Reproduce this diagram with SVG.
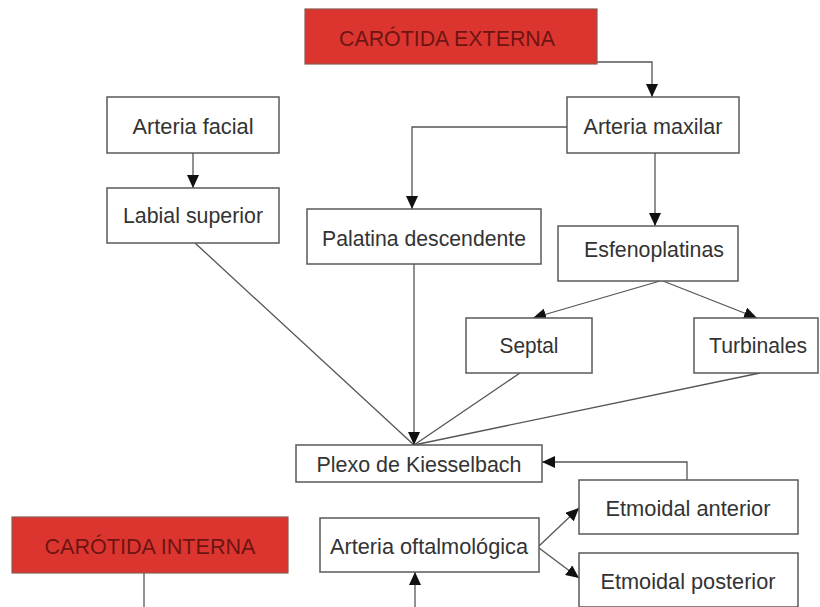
<svg xmlns="http://www.w3.org/2000/svg" width="820" height="607" viewBox="0 0 820 607">
<style>
.box{fill:#fff;stroke:#5a5a5a;stroke-width:1.5}
.red{fill:#dc3530;stroke:#8a5a50;stroke-width:1.2}
.t{font-family:"Liberation Sans",Arial,sans-serif;font-size:21.5px;fill:#333;text-anchor:middle}
.tr{font-family:"Liberation Sans",Arial,sans-serif;font-size:21.5px;fill:#6e1512;text-anchor:middle}
.c{fill:none;stroke:#555;stroke-width:1.3}
</style>
<defs>
<marker id="ah" markerUnits="userSpaceOnUse" markerWidth="14" markerHeight="12" refX="13" refY="6" orient="auto">
<path d="M0,0 L13,6 L0,12 z" fill="#111"/>
</marker>
</defs>
<rect width="820" height="607" fill="#fff"/>
<g id="connectors">
<polyline class="c" points="597,62 652,62 652,97" marker-end="url(#ah)"/>
<polyline class="c" points="567,127 412,127 412,209" marker-end="url(#ah)"/>
<line class="c" x1="193" y1="153" x2="193" y2="188" marker-end="url(#ah)"/>
<line class="c" x1="655" y1="153" x2="655" y2="226" marker-end="url(#ah)"/>
<line class="c" x1="660" y1="281" x2="533" y2="318" marker-end="url(#ah)"/>
<line class="c" x1="663" y1="281" x2="757" y2="318" marker-end="url(#ah)"/>
<line class="c" x1="195" y1="243" x2="414" y2="445"/>
<line class="c" x1="414" y1="264" x2="414" y2="445" marker-end="url(#ah)"/>
<line class="c" x1="520" y1="373" x2="414" y2="445"/>
<line class="c" x1="760" y1="373" x2="414" y2="445"/>
<polyline class="c" points="687,480 687,462 542,462" marker-end="url(#ah)"/>
<line class="c" x1="539" y1="546" x2="579" y2="508" marker-end="url(#ah)"/>
<line class="c" x1="539" y1="548" x2="579" y2="578" marker-end="url(#ah)"/>
<line class="c" x1="144" y1="573" x2="144" y2="607"/>
<line class="c" x1="415" y1="607" x2="415" y2="572" marker-end="url(#ah)"/>
</g>
<g id="carotida-externa"><rect class="red" x="305" y="9" width="292" height="55"/><text class="tr" x="447" y="46" textLength="216" lengthAdjust="spacingAndGlyphs">CARÓTIDA EXTERNA</text></g>
<g id="arteria-facial"><rect class="box" x="107" y="97" width="172" height="56"/><text class="t" x="193" y="134" textLength="121" lengthAdjust="spacingAndGlyphs">Arteria facial</text></g>
<g id="arteria-maxilar"><rect class="box" x="567" y="97" width="172" height="56"/><text class="t" x="653" y="134" textLength="139" lengthAdjust="spacingAndGlyphs">Arteria maxilar</text></g>
<g id="labial-superior"><rect class="box" x="107" y="188" width="172" height="55"/><text class="t" x="193" y="223" textLength="140" lengthAdjust="spacingAndGlyphs">Labial superior</text></g>
<g id="palatina-descendente"><rect class="box" x="307" y="209" width="234" height="55"/><text class="t" x="424" y="246" textLength="204" lengthAdjust="spacingAndGlyphs">Palatina descendente</text></g>
<g id="esfenoplatinas"><rect class="box" x="558" y="226" width="180" height="55"/><text class="t" x="654" y="257" textLength="140" lengthAdjust="spacingAndGlyphs">Esfenoplatinas</text></g>
<g id="septal"><rect class="box" x="466" y="318" width="126" height="55"/><text class="t" x="529" y="353" textLength="59" lengthAdjust="spacingAndGlyphs">Septal</text></g>
<g id="turbinales"><rect class="box" x="694" y="318" width="124" height="55"/><text class="t" x="758" y="353" textLength="98" lengthAdjust="spacingAndGlyphs">Turbinales</text></g>
<g id="plexo-kiesselbach"><rect class="box" x="296" y="445" width="246" height="37"/><text class="t" x="419" y="472" textLength="205" lengthAdjust="spacingAndGlyphs">Plexo de Kiesselbach</text></g>
<g id="etmoidal-anterior"><rect class="box" x="579" y="480" width="219" height="54"/><text class="t" x="688" y="516" textLength="165" lengthAdjust="spacingAndGlyphs">Etmoidal anterior</text></g>
<g id="carotida-interna"><rect class="red" x="12" y="517" width="276" height="56"/><text class="tr" x="150" y="554" textLength="211" lengthAdjust="spacingAndGlyphs">CARÓTIDA INTERNA</text></g>
<g id="arteria-oftalmologica"><rect class="box" x="320" y="518" width="219" height="54"/><text class="t" x="429" y="554" textLength="198" lengthAdjust="spacingAndGlyphs">Arteria oftalmológica</text></g>
<g id="etmoidal-posterior"><rect class="box" x="579" y="553" width="219" height="54"/><text class="t" x="688" y="589" textLength="175" lengthAdjust="spacingAndGlyphs">Etmoidal posterior</text></g>
</svg>
